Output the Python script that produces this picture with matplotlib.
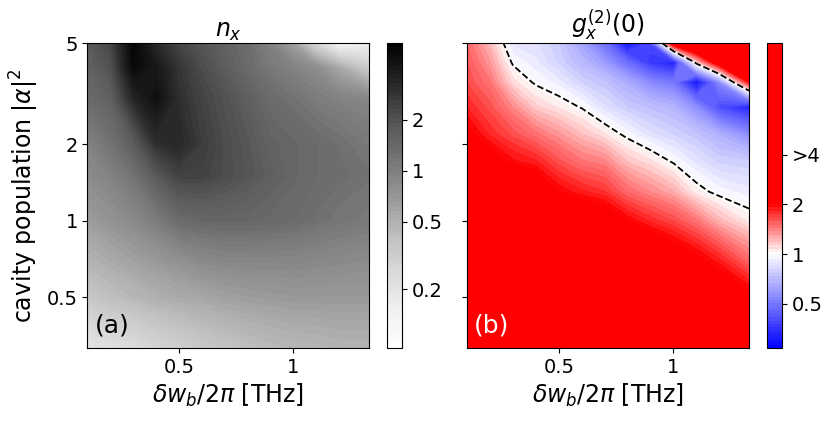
import numpy as np
import matplotlib
matplotlib.use("Agg")
import matplotlib.pyplot as plt
from matplotlib.colors import LinearSegmentedColormap

## grid: detuning (THz) and cavity population
x_vals = [0.1, 0.2, 0.3, 0.4, 0.5, 0.6, 0.7, 0.8, 0.9, 1.0, 1.1, 1.2, 1.33]

## (a) n_x, rows follow y_nx
y_nx = [0.315, 0.5, 0.7, 1.0, 1.5, 2.0, 3.0, 4.0, 5.0]
nx = [
    [0.20, 0.22, 0.24, 0.28, 0.31, 0.35, 0.38, 0.41, 0.44, 0.46, 0.47, 0.49, 0.49],
    [0.36, 0.41, 0.46, 0.51, 0.55, 0.58, 0.62, 0.65, 0.67, 0.69, 0.69, 0.69, 0.69],
    [0.49, 0.55, 0.62, 0.69, 0.77, 0.86, 0.91, 0.91, 0.91, 0.91, 0.88, 0.86, 0.83],
    [0.65, 0.74, 0.86, 1.05, 1.35, 1.45, 1.45, 1.45, 1.40, 1.35, 1.25, 1.15, 1.10],
    [0.83, 0.96, 1.20, 1.80, 2.40, 2.40, 2.14, 1.90, 1.65, 1.45, 1.35, 1.30, 1.21],
    [0.96, 1.20, 1.70, 3.00, 3.30, 2.60, 2.14, 1.85, 1.55, 1.45, 1.35, 1.25, 1.10],
    [1.35, 1.60, 3.30, 4.60, 3.00, 2.40, 2.00, 1.65, 1.35, 1.21, 1.05, 0.96, 0.90],
    [1.55, 2.00, 5.00, 4.00, 2.80, 2.14, 1.70, 1.35, 1.10, 0.96, 0.80, 0.55, 0.32],
    [1.77, 2.30, 5.30, 3.20, 2.30, 1.90, 1.55, 1.30, 0.96, 0.60, 0.25, 0.12, 0.15],
]

## (b) g2(0), rows follow y_g2
y_g2 = [0.315, 0.5, 0.7, 1.0, 1.3, 1.7, 2.2, 2.8, 3.5, 4.2, 5.0]
g2 = [
    [8.0, 10.0, 12.0, 13.0, 14.0, 14.0, 13.0, 12.0, 10.0, 8.0, 6.0, 4.5, 3.5],
    [9.0, 11.0, 13.0, 15.0, 16.0, 15.0, 9.0, 6.0, 4.5, 3.5, 3.0, 2.5, 2.1],
    [9.0, 11.0, 12.0, 12.0, 10.0, 6.0, 4.0, 3.0, 2.6, 2.3, 2.1, 1.85, 1.5],
    [8.0, 9.0, 8.0, 5.0, 3.2, 2.5, 2.3, 2.0, 1.8, 1.65, 1.45, 1.22, 1.06],
    [4.0, 4.0, 3.2, 2.4, 2.0, 1.85, 1.75, 1.5, 1.37, 1.25, 1.05, 0.96, 0.91],
    [2.8, 2.2, 1.95, 1.85, 1.62, 1.46, 1.4, 1.19, 1.1, 0.99, 0.88, 0.8, 0.78],
    [2.1, 1.8, 1.62, 1.46, 1.32, 1.19, 1.08, 0.96, 0.86, 0.8, 0.74, 0.66, 0.55],
    [1.82, 1.62, 1.37, 1.15, 1.07, 0.99, 0.86, 0.77, 0.72, 0.68, 0.56, 0.4, 0.33],
    [1.65, 1.45, 1.11, 0.98, 0.91, 0.8, 0.74, 0.65, 0.55, 0.5, 0.3, 0.55, 1.9],
    [1.58, 1.32, 0.98, 0.9, 0.8, 0.7, 0.6, 0.47, 0.36, 0.32, 1.1, 2.5, 5.0],
    [1.5, 1.2, 0.88, 0.86, 0.77, 0.62, 0.48, 0.3, 0.4, 2.5, 4.0, 7.0, 10.0],
]

# colour bar ranges
nx_range = (0.09, 5.7)
g2_range = (0.27, 19.0)
nx_ticks = [0.2, 0.5, 1, 2]
g2_ticks = [0.5, 1, 2, 4]
g2_ticklabels = ["0.5", "1", "2", ">4"]

fs_tick = 14
fs_label = 17

fig = plt.figure(figsize=(8.3, 4.22), dpi=100)
ax1 = fig.add_axes([0.1054, 0.1754, 0.3392, 0.7227])
cax1 = fig.add_axes([0.4659, 0.1754, 0.0184, 0.7227])
ax2 = fig.add_axes([0.5627, 0.1754, 0.3398, 0.7227])
cax2 = fig.add_axes([0.9237, 0.1754, 0.0181, 0.7227])

## panel (a): log of n_x in grey
X1, Y1 = np.meshgrid(x_vals, y_nx)
lev1 = np.linspace(np.log(nx_range[0]), np.log(nx_range[1]), 70)
cs1 = ax1.contourf(X1, Y1, np.log(np.array(nx)), levels=lev1, cmap="Greys",
                   vmin=lev1[0], vmax=lev1[-1])
cb1 = fig.colorbar(cs1, cax=cax1)
cb1.set_ticks(np.log(nx_ticks))
cb1.set_ticklabels([str(t) for t in nx_ticks])

## panel (b): log2 of g2, blue-white-red, saturating red above 2
lo, hi = np.log2(g2_range[0]), np.log2(g2_range[1])
cmap2 = LinearSegmentedColormap.from_list(
    "g2", [(0.0, (0, 0, 1)), ((0 - lo) / (hi - lo), (1, 1, 1)),
           ((1 - lo) / (hi - lo), (1, 0, 0)), (1.0, (1, 0, 0))])
X2, Y2 = np.meshgrid(x_vals, y_g2)
G = np.log2(np.array(g2))
lev2 = np.linspace(lo, hi, 90)
cs2 = ax2.contourf(X2, Y2, G, levels=lev2, cmap=cmap2, vmin=lo, vmax=hi)
ax2.contour(X2, Y2, G, levels=[0], colors="k", linestyles="--", linewidths=1.3)
cb2 = fig.colorbar(cs2, cax=cax2)
cb2.set_ticks(np.log2(g2_ticks))
cb2.set_ticklabels(g2_ticklabels)

for cb in (cb1, cb2):
    cb.ax.tick_params(labelsize=fs_tick)
    cb.ax.minorticks_off()

for ax in (ax1, ax2):
    ax.set_yscale("log")
    ax.set_xlim(x_vals[0], x_vals[-1])
    ax.set_ylim(0.315, 5)
    ax.set_xticks([0.5, 1])
    ax.set_xticklabels(["0.5", "1"])
    ax.set_yticks([0.5, 1, 2, 5])
    ax.minorticks_off()
    ax.tick_params(labelsize=fs_tick)
    ax.set_xlabel(r"$\delta w_b/2\pi$ [THz]", fontsize=fs_label)

ax1.set_yticklabels(["0.5", "1", "2", "5"])
ax2.set_yticklabels([])
ax1.set_ylabel(r"cavity population $|\alpha|^2$", fontsize=fs_label)

ax1.set_title(r"$n_x$", fontsize=fs_label, pad=2)
ax2.set_title(r"$g_x^{(2)}(0)$", fontsize=fs_label, pad=2)

ax1.text(0.025, 0.05, "(a)", transform=ax1.transAxes, fontsize=18, color="k")
ax2.text(0.025, 0.05, "(b)", transform=ax2.transAxes, fontsize=18, color="w")

fig.savefig("out.png", dpi=100)
